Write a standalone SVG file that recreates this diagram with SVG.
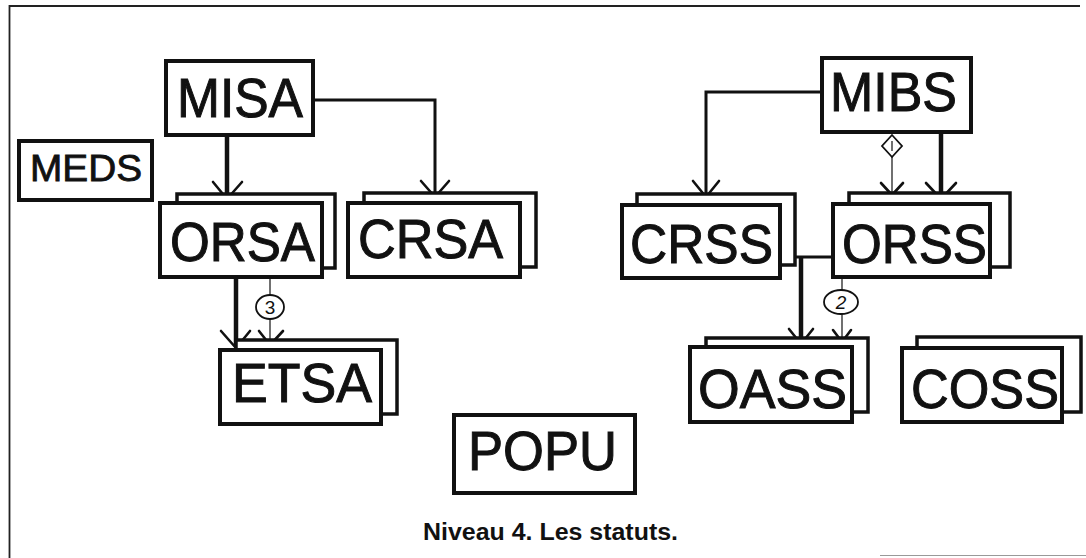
<svg xmlns="http://www.w3.org/2000/svg" width="1086" height="558" viewBox="0 0 1086 558">
  <style>
    .frame { fill: none; stroke: #222; stroke-width: 1.8; }
    .box { fill: #fff; stroke: #111; stroke-width: 4; }
    .back { fill: #fff; stroke: #111; stroke-width: 3.5; }
    .lbl { font-family: "Liberation Sans", Arial, sans-serif; font-size: 55px; fill: #111; stroke: #111; stroke-width: 1; }
    .small { font-size: 36px; stroke-width: 0.8; }
    .thick { fill: none; stroke: #111; stroke-width: 4.5; }
    .mid { fill: none; stroke: #111; stroke-width: 3; }
    .thin { fill: none; stroke: #111; stroke-width: 1.2; }
    .head { fill: none; stroke: #111; stroke-width: 2.6; stroke-linecap: round; stroke-linejoin: round; }
    .tag { fill: #fff; stroke: #111; stroke-width: 1.8; }
    .tagtxt { font-family: "Liberation Sans", Arial, sans-serif; font-size: 19px; fill: #111; text-anchor: middle; }
    .caption { font-family: "Liberation Sans", Arial, sans-serif; font-size: 23px; font-weight: bold; fill: #111; }
  </style>

  <rect width="1086" height="558" fill="#fff"/>

  <!-- page frame -->
  <path class="frame" d="M9.5,558 V6 H1080"/>
  <path d="M880,555.5 H1086" stroke="#999" stroke-width="1.2" fill="none"/>

  <!-- connectors -->
  <g id="connectors">
    <!-- MISA -> ORSA -->
    <path class="thick" d="M227,135 V198"/>
    <path class="head" d="M213,182 L227,199 L242,182"/>
    <!-- MISA -> CRSA -->
    <path class="mid" d="M313,100 H435 V196"/>
    <path class="head" d="M421,181 L435,197 L449,181"/>
    <!-- MIBS -> CRSS -->
    <path class="mid" d="M822,92 H706 V196"/>
    <path class="head" d="M693,181 L706,197 L719,181"/>
    <!-- MIBS -> ORSS (diamond link) -->
    <path class="thin" d="M892,157 V195"/>
    <path class="head" d="M881,183 L892,195 L903,183"/>
    <!-- MIBS -> ORSS -->
    <path class="thick" d="M941,132 V198"/>
    <path class="head" d="M926,183 L941,199 L956,183"/>
    <!-- CRSS / ORSS -> OASS -->
    <path class="mid" d="M795,257 H833"/>
    <path class="thick" d="M801,256 V342"/>
    <path class="head" d="M789,329 L801,344 L813,329"/>
    <!-- ORSS -> OASS (2) -->
    <path class="thin" d="M842,277 V342"/>
    <path class="head" d="M833,330 L842,342 L851,330"/>
    <!-- ORSA -> ETSA -->
    <path class="thick" d="M236,277 V347"/>
    <path class="head" d="M221,331 L236,348 L250,331"/>
    <!-- ORSA -> ETSA (3) -->
    <path class="thin" d="M270,277 V345"/>
    <path class="head" d="M259,331 L270,345 L283,331"/>
  </g>

  <!-- link tags -->
  <g id="tag-1">
    <polygon class="tag" points="892,135 902,146 892,157 882,146"/>
    <path d="M892,141 V151" stroke="#111" stroke-width="1.2"/>
  </g>
  <g id="tag-2">
    <ellipse class="tag" cx="841" cy="302" rx="17" ry="12"/>
    <text class="tagtxt" x="841" y="309" font-style="italic">2</text>
  </g>
  <g id="tag-3">
    <ellipse class="tag" cx="270" cy="307" rx="14" ry="12"/>
    <text class="tagtxt" x="270" y="314">3</text>
  </g>

  <!-- nodes -->
  <g id="MISA">
    <rect class="box" x="166" y="61" width="147" height="74"/>
    <text class="lbl" x="177" y="117" textLength="126" lengthAdjust="spacingAndGlyphs">MISA</text>
  </g>
  <g id="MEDS">
    <rect class="box" x="19" y="141" width="133" height="59"/>
    <text class="lbl small" x="30" y="181" textLength="112" lengthAdjust="spacingAndGlyphs">MEDS</text>
  </g>
  <g id="ORSA">
    <rect class="back" x="177" y="194" width="158" height="74"/>
    <rect class="box" x="160" y="203" width="162" height="74"/>
    <text class="lbl" x="170" y="261" textLength="145" lengthAdjust="spacingAndGlyphs">ORSA</text>
  </g>
  <g id="CRSA">
    <rect class="back" x="364" y="193" width="172" height="74"/>
    <rect class="box" x="348" y="203" width="172" height="74"/>
    <text class="lbl" x="358" y="258" textLength="145" lengthAdjust="spacingAndGlyphs">CRSA</text>
  </g>
  <g id="MIBS">
    <rect class="box" x="822" y="58" width="149" height="74"/>
    <text class="lbl" x="830" y="111" textLength="127" lengthAdjust="spacingAndGlyphs">MIBS</text>
  </g>
  <g id="CRSS">
    <rect class="back" x="637" y="194" width="158" height="71"/>
    <rect class="box" x="622" y="205" width="158" height="73"/>
    <text class="lbl" x="630" y="263" textLength="143" lengthAdjust="spacingAndGlyphs">CRSS</text>
  </g>
  <g id="ORSS">
    <rect class="back" x="849" y="193" width="161" height="74"/>
    <rect class="box" x="833" y="204" width="157" height="73"/>
    <text class="lbl" x="842" y="263" textLength="145" lengthAdjust="spacingAndGlyphs">ORSS</text>
  </g>
  <g id="ETSA">
    <rect class="back" x="236" y="340" width="161" height="74"/>
    <rect class="box" x="220" y="350" width="161" height="74"/>
    <text class="lbl" x="232" y="402" textLength="140" lengthAdjust="spacingAndGlyphs">ETSA</text>
  </g>
  <g id="OASS">
    <rect class="back" x="706" y="338" width="162" height="74"/>
    <rect class="box" x="690" y="347" width="162" height="75"/>
    <text class="lbl" x="698" y="408" textLength="149" lengthAdjust="spacingAndGlyphs">OASS</text>
  </g>
  <g id="COSS">
    <rect class="back" x="917" y="337" width="164" height="75"/>
    <rect class="box" x="902" y="348" width="160" height="74"/>
    <text class="lbl" x="911" y="408" textLength="148" lengthAdjust="spacingAndGlyphs">COSS</text>
  </g>
  <g id="POPU">
    <rect class="box" x="454" y="415" width="181" height="78"/>
    <text class="lbl" x="468" y="470" textLength="149" lengthAdjust="spacingAndGlyphs">POPU</text>
  </g>

  <text class="caption" x="423" y="540" textLength="255" lengthAdjust="spacingAndGlyphs">Niveau 4. Les statuts.</text>
</svg>
